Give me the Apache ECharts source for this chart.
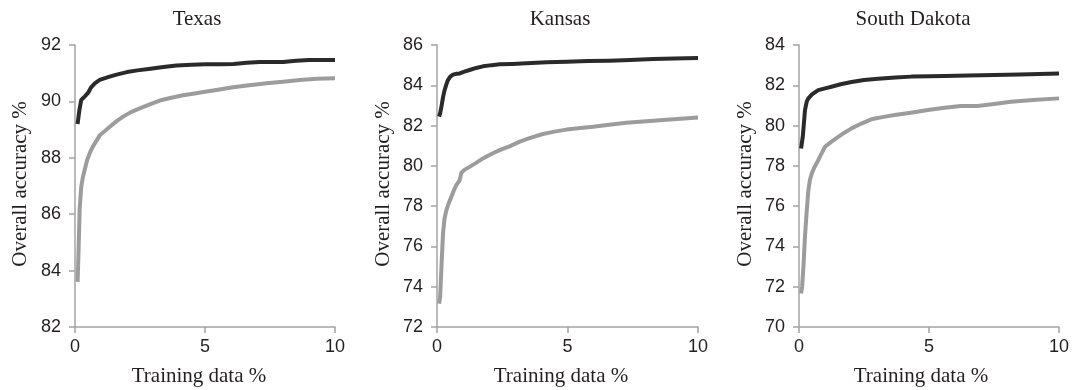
<!DOCTYPE html>
<html><head><meta charset="utf-8">
<script src="https://cdn.jsdelivr.net/npm/echarts@6/dist/echarts.min.js"></script>
<style>html,body{margin:0;padding:0;background:#fff}#c{width:1072px;height:390px}</style>
</head><body><div id="c"></div>
<script>
const panelTitles = ['Texas', 'Kansas', 'South Dakota'];
const xAxisTitle = 'Training data %';
const yAxisTitle = 'Overall accuracy %';
const xRange = [0, 10];
const xStep = 5;
const yRanges = [[82, 92], [72, 86], [70, 84]];
const yStep = 2;

const texasBlack = [[0.1,89.2],[0.17,89.7],[0.24,90.05],[0.37,90.17],[0.5,90.3],[0.62,90.5],[0.76,90.64],[0.95,90.76],[1.3,90.87],[1.6,90.95],[2.0,91.04],[2.4,91.1],[2.9,91.16],[3.4,91.22],[3.9,91.27],[4.5,91.3],[5,91.32],[5.6,91.32],[6.1,91.33],[6.6,91.37],[7.1,91.4],[7.6,91.4],[8.0,91.4],[8.5,91.44],[9.0,91.47],[9.5,91.47],[10,91.47]];
const texasGrey = [[0.1,83.6],[0.14,84.8],[0.18,86.2],[0.24,86.97],[0.3,87.3],[0.37,87.56],[0.46,87.9],[0.56,88.15],[0.66,88.35],[0.76,88.51],[0.86,88.65],[0.95,88.8],[1.15,88.95],[1.34,89.1],[1.6,89.3],[1.85,89.46],[2.15,89.62],[2.49,89.75],[2.9,89.9],[3.26,90.03],[3.7,90.13],[4.16,90.22],[4.6,90.28],[5,90.34],[5.5,90.41],[6.08,90.5],[6.7,90.57],[7.37,90.64],[8,90.7],[8.65,90.76],[9.3,90.8],[10,90.82]];
const kansasBlack = [[0.08,82.44],[0.12,82.6],[0.17,82.94],[0.23,83.4],[0.29,83.76],[0.36,84.05],[0.42,84.26],[0.5,84.42],[0.61,84.53],[0.75,84.57],[0.87,84.59],[1.05,84.68],[1.25,84.76],[1.5,84.86],[1.76,84.94],[2.1,85.0],[2.4,85.04],[2.9,85.06],[3.42,85.09],[4.2,85.14],[4.96,85.17],[5.8,85.2],[6.6,85.22],[7.4,85.26],[8.28,85.3],[9.1,85.33],[10,85.35]];
const kansasGrey = [[0.08,73.16],[0.12,73.5],[0.17,74.98],[0.23,76.64],[0.29,77.4],[0.36,77.8],[0.45,78.15],[0.55,78.46],[0.65,78.8],[0.74,79.04],[0.87,79.29],[0.93,79.65],[1.05,79.8],[1.25,79.95],[1.5,80.15],[1.76,80.37],[2.1,80.6],[2.4,80.78],[2.8,80.98],[3.17,81.2],[3.6,81.4],[4.06,81.58],[4.5,81.7],[4.96,81.8],[5.5,81.88],[5.98,81.94],[6.6,82.04],[7.25,82.14],[7.9,82.2],[8.53,82.27],[9.2,82.33],[10,82.4]];
const sdBlack = [[0.08,78.86],[0.15,79.5],[0.23,80.77],[0.3,81.2],[0.36,81.35],[0.5,81.55],[0.74,81.76],[1.0,81.85],[1.25,81.93],[1.6,82.05],[2.02,82.16],[2.5,82.26],[3.04,82.33],[3.7,82.39],[4.32,82.43],[5.0,82.45],[5.59,82.46],[6.5,82.49],[7.5,82.51],[8.5,82.54],[10,82.59]];
const sdGrey = [[0.08,71.66],[0.12,72.0],[0.17,72.98],[0.23,74.5],[0.29,75.63],[0.36,76.79],[0.42,77.3],[0.49,77.62],[0.6,77.95],[0.74,78.28],[0.87,78.62],[1.0,78.95],[1.25,79.2],[1.51,79.44],[1.76,79.66],[2.02,79.86],[2.4,80.1],[2.78,80.31],[3.2,80.42],[3.68,80.52],[4.3,80.64],[4.96,80.77],[5.6,80.88],[6.23,80.97],[6.87,80.97],[7.5,81.07],[8.15,81.18],[9.0,81.27],[10,81.35]];

const blackSeries = [texasBlack, kansasBlack, sdBlack];
const greySeries = [texasGrey, kansasGrey, sdGrey];

const grids = [
  {left: 75, width: 260, top: 45, height: 282},
  {left: 437, width: 261, top: 45, height: 282},
  {left: 799, width: 261, top: 45, height: 282}
];
const titleX = [197, 560, 913];
const xNameX = [199, 561, 921];
const yNameX = [20, 383.5, 745.5];

const axisColor = '#a3a3a3';
const textColor = '#231f20';
const serif = '"Liberation Serif", "Times New Roman", serif';
const sans = '"Liberation Sans", Arial, sans-serif';

const xAxes = [], yAxes = [], series = [], graphic = [];
grids.forEach((g, i) => {
  xAxes.push({
    type: 'value', gridIndex: i, min: xRange[0], max: xRange[1], interval: xStep,
    axisLine: {show: true, lineStyle: {color: axisColor, width: 1.5}},
    axisTick: {show: true, length: 6, lineStyle: {color: axisColor, width: 1.5}},
    axisLabel: {color: textColor, fontFamily: sans, fontSize: 18, margin: 11},
    splitLine: {show: false}
  });
  yAxes.push({
    type: 'value', gridIndex: i, min: yRanges[i][0], max: yRanges[i][1], interval: yStep,
    axisLine: {show: true, lineStyle: {color: axisColor, width: 1.5}},
    axisTick: {show: true, length: 6, lineStyle: {color: axisColor, width: 1.5}},
    axisLabel: {color: textColor, fontFamily: sans, fontSize: 18, margin: 14},
    splitLine: {show: false}
  });
  series.push({
    type: 'line', xAxisIndex: i, yAxisIndex: i, data: greySeries[i], showSymbol: false, silent: true,
    lineStyle: {color: '#9c9c9c', width: 4, join: 'round'}
  });
  series.push({
    type: 'line', xAxisIndex: i, yAxisIndex: i, data: blackSeries[i], showSymbol: false, silent: true,
    lineStyle: {color: '#2a2a2a', width: 4, join: 'round'}
  });
  graphic.push({type: 'text', x: titleX[i], y: 19.5, style: {text: panelTitles[i], font: '21px ' + serif, fill: textColor, align: 'center', verticalAlign: 'middle'}});
  graphic.push({type: 'text', x: xNameX[i], y: 376, style: {text: xAxisTitle, font: '21px ' + serif, fill: textColor, align: 'center', verticalAlign: 'middle'}});
  graphic.push({type: 'text', x: yNameX[i], y: 184, rotation: Math.PI / 2, style: {text: yAxisTitle, font: '21px ' + serif, fill: textColor, align: 'center', verticalAlign: 'middle'}});
});

const chart = echarts.init(document.getElementById('c'), null, {renderer: 'canvas'});
chart.setOption({
  animation: false,
  backgroundColor: '#fff',
  grid: grids,
  xAxis: xAxes,
  yAxis: yAxes,
  series: series,
  graphic: graphic
});
</script></body></html>
